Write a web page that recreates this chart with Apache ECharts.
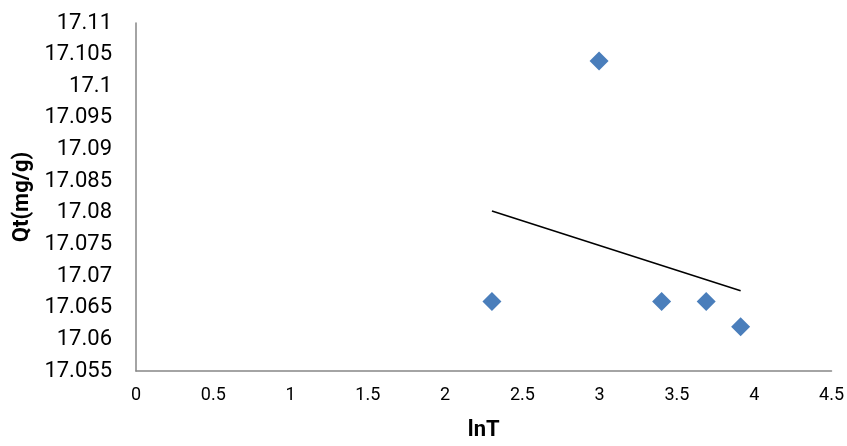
<!DOCTYPE html>
<html>
<head>
<meta charset="utf-8">
<script src="https://cdn.jsdelivr.net/npm/echarts@6/dist/echarts.min.js"></script>
<style>
html,body{margin:0;padding:0;background:#fff;}
#c{width:847px;height:446px;}
</style>
</head>
<body>
<div id="c"></div>
<script>
const lnT = [2.303, 2.996, 3.401, 3.689, 3.912];
const qt = [17.066, 17.104, 17.066, 17.066, 17.062];
const xTicks = {min: 0, max: 4.5, interval: 0.5};
const yTicks = {min: 17.055, max: 17.11, interval: 0.005};

// Linear trend line (least squares) from the data
const n = lnT.length;
const mx = lnT.reduce((a,b)=>a+b,0)/n;
const my = qt.reduce((a,b)=>a+b,0)/n;
let sxy = 0, sxx = 0;
for (let i=0;i<n;i++){ sxy += (lnT[i]-mx)*(qt[i]-my); sxx += (lnT[i]-mx)*(lnT[i]-mx); }
const slope = sxy/sxx, icpt = my - slope*mx;
const x0 = Math.min(...lnT), x1 = Math.max(...lnT);
const trend = [[x0, icpt+slope*x0],[x1, icpt+slope*x1]];

const FONT = 'Roboto, sans-serif';
const chart = echarts.init(document.getElementById('c'), null, {renderer:'canvas'});
chart.setOption({
  animation:false,
  backgroundColor:'#fff',
  grid:{left:136, right:14, top:23, bottom:69},
  xAxis:{
    type:'value', min:xTicks.min, max:xTicks.max, interval:xTicks.interval,
    name:'lnT', nameLocation:'middle', nameGap:48,
    nameTextStyle:{fontFamily:FONT, fontWeight:'bold', fontSize:22, color:'#000'},
    axisLine:{show:true, onZero:false, lineStyle:{color:'#868686', width:1.5}},
    axisTick:{show:false},
    splitLine:{show:false},
    axisLabel:{fontFamily:FONT, fontSize:18, color:'#000', margin:15,
      formatter:v=>String(+v.toFixed(2))}
  },
  yAxis:{
    type:'value', min:yTicks.min, max:yTicks.max, interval:yTicks.interval,
    name:'Qt(mg/g)', nameLocation:'middle', nameGap:103,
    nameTextStyle:{fontFamily:FONT, fontWeight:'bold', fontSize:22, color:'#000'},
    axisLine:{show:true, lineStyle:{color:'#868686', width:1.5}},
    axisTick:{show:false},
    splitLine:{show:false},
    axisLabel:{fontFamily:FONT, fontSize:22, color:'#000', margin:24,
      formatter:v=>String(+v.toFixed(3))}
  },
  series:[
    {type:'scatter', symbol:'diamond', symbolSize:19,
     itemStyle:{color:'#4a7ebb', opacity:1},
     data:lnT.map((x,i)=>[x,qt[i]])},
    {type:'line', data:trend, symbol:'none', lineStyle:{color:'#000', width:1.5}}
  ]
});
</script>
</body>
</html>
